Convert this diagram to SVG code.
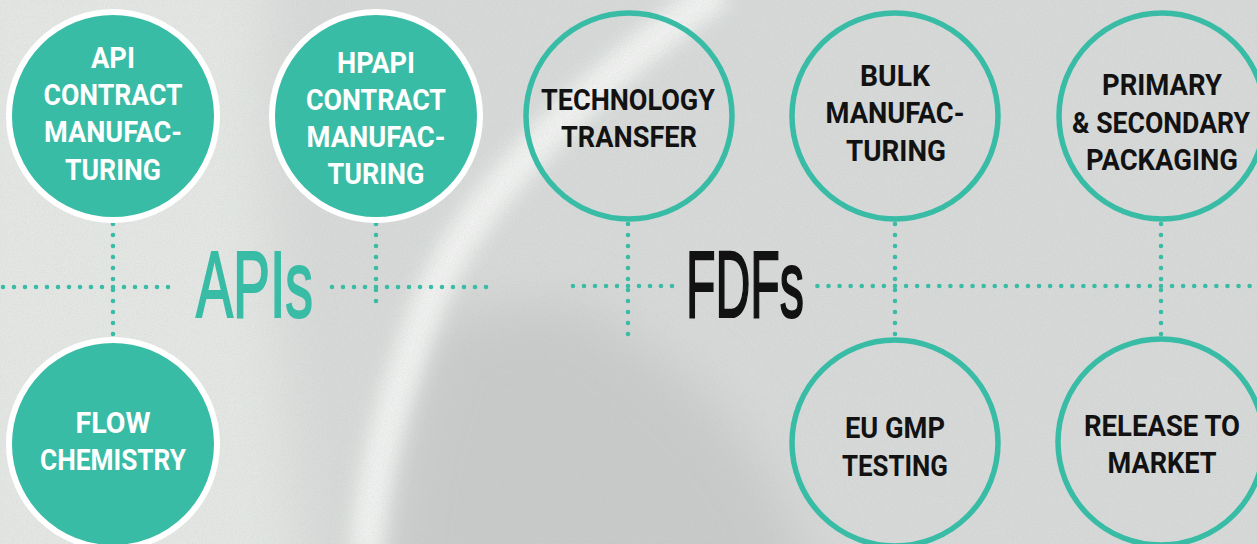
<svg xmlns="http://www.w3.org/2000/svg" width="1257" height="544" viewBox="0 0 1257 544">
  <defs>
    <style>
      .lbl { font-family: Roboto, "Liberation Sans", Arial, sans-serif; font-weight: 700; font-size: 30px; text-anchor: middle; }
      .w { fill: #ffffff; }
      .k { fill: #121212; }
      .solid { fill: #39bca6; stroke: #ffffff; stroke-width: 6; }
      .ring { fill: none; stroke: #39bca6; stroke-width: 5.5; }
      .dots { fill: none; stroke: #39bca6; stroke-width: 4.6; stroke-linecap: round; stroke-dasharray: 0 11; }
      .big { font-family: "Liberation Sans", Arial, sans-serif; font-size: 94px; stroke-width: 2.2; }
    </style>
    <filter id="soft" x="-20%" y="-20%" width="140%" height="140%">
      <feGaussianBlur stdDeviation="26"/>
    </filter>
    <filter id="crease" x="-20%" y="-20%" width="140%" height="140%">
      <feGaussianBlur stdDeviation="9"/>
    </filter>
    <filter id="grain" x="0" y="0" width="100%" height="100%">
      <feTurbulence type="fractalNoise" baseFrequency="0.9" numOctaves="2" seed="4" result="n"/>
      <feColorMatrix in="n" type="matrix" values="0 0 0 0 0.45  0 0 0 0 0.47  0 0 0 0 0.46  0 0 0 0.9 -0.38"/>
    </filter>
  </defs>

  <!-- paper background -->
  <g id="background">
    <rect width="1257" height="544" fill="#d6d9d7"/>
    <path d="M-40 -40 H270 C250 150 280 330 300 600 H-40 Z" fill="#e3e6e3" filter="url(#soft)"/>
    <path d="M440 320 C410 400 392 470 386 600 H820 C780 460 700 360 560 300 Z" fill="#c8cac9" filter="url(#soft)"/>
    <path d="M720 -10 C580 90 470 200 430 300 C395 390 372 470 366 554" fill="none" stroke="#f4f6f4" stroke-width="34" opacity="0.85" filter="url(#crease)"/>
    <rect width="1257" height="544" filter="url(#grain)" opacity="0.5"/>
  </g>

  <!-- dotted connectors -->
  <g id="connectors" class="dots">
    <path d="M3 287 H170"/>
    <path d="M332 287 H490"/>
    <path d="M113 224 V337"/>
    <path d="M376 224 V308"/>
    <path d="M573 286 H673"/>
    <path d="M817.4 286 H1262" style="stroke-dasharray: 0 11.083"/>
    <path d="M628 224 V339"/>
    <path d="M895 224 V336"/>
    <path d="M1161 224 V335"/>
  </g>

  <!-- section titles -->
  <g id="title-apis">
    <text class="big" x="196" y="317" textLength="117" lengthAdjust="spacingAndGlyphs" fill="#39bca6" stroke="#39bca6">APIs</text>
  </g>
  <g id="title-fdfs">
    <text class="big" x="686" y="317" textLength="118" lengthAdjust="spacingAndGlyphs" fill="#121212" stroke="#121212">FDFs</text>
  </g>

  <!-- API services -->
  <g id="api-contract">
    <circle class="solid" cx="113" cy="116" r="104"/>
    <text class="lbl w" x="113" y="68" textLength="44" lengthAdjust="spacingAndGlyphs">API</text>
    <text class="lbl w" x="113" y="105" textLength="139" lengthAdjust="spacingAndGlyphs">CONTRACT</text>
    <text class="lbl w" x="113" y="142" textLength="138" lengthAdjust="spacingAndGlyphs">MANUFAC-</text>
    <text class="lbl w" x="113" y="180" textLength="96" lengthAdjust="spacingAndGlyphs">TURING</text>
  </g>
  <g id="hpapi-contract">
    <circle class="solid" cx="376" cy="116" r="104"/>
    <text class="lbl w" x="376" y="73" textLength="78" lengthAdjust="spacingAndGlyphs">HPAPI</text>
    <text class="lbl w" x="376" y="110" textLength="140" lengthAdjust="spacingAndGlyphs">CONTRACT</text>
    <text class="lbl w" x="376" y="147" textLength="139" lengthAdjust="spacingAndGlyphs">MANUFAC-</text>
    <text class="lbl w" x="376" y="184" textLength="97" lengthAdjust="spacingAndGlyphs">TURING</text>
  </g>
  <g id="flow-chemistry">
    <circle class="solid" cx="113" cy="444" r="104"/>
    <text class="lbl w" x="113" y="433" textLength="75" lengthAdjust="spacingAndGlyphs">FLOW</text>
    <text class="lbl w" x="113" y="470" textLength="146" lengthAdjust="spacingAndGlyphs">CHEMISTRY</text>
  </g>

  <!-- FDF services -->
  <g id="technology-transfer">
    <circle class="ring" cx="629" cy="116" r="103"/>
    <text class="lbl k" x="628" y="110" textLength="174" lengthAdjust="spacingAndGlyphs">TECHNOLOGY</text>
    <text class="lbl k" x="629" y="147" textLength="136" lengthAdjust="spacingAndGlyphs">TRANSFER</text>
  </g>
  <g id="bulk-manufacturing">
    <circle class="ring" cx="895" cy="116" r="103"/>
    <text class="lbl k" x="895" y="86" textLength="70" lengthAdjust="spacingAndGlyphs">BULK</text>
    <text class="lbl k" x="895" y="123" textLength="139" lengthAdjust="spacingAndGlyphs">MANUFAC-</text>
    <text class="lbl k" x="896" y="161" textLength="100" lengthAdjust="spacingAndGlyphs">TURING</text>
  </g>
  <g id="packaging">
    <circle class="ring" cx="1162" cy="116" r="103"/>
    <text class="lbl k" x="1162" y="95" textLength="120" lengthAdjust="spacingAndGlyphs">PRIMARY</text>
    <text class="lbl k" x="1161" y="133" textLength="178" lengthAdjust="spacingAndGlyphs">&amp; SECONDARY</text>
    <text class="lbl k" x="1162" y="170" textLength="152" lengthAdjust="spacingAndGlyphs">PACKAGING</text>
  </g>
  <g id="eu-gmp-testing">
    <circle class="ring" cx="895" cy="443" r="103"/>
    <text class="lbl k" x="895" y="438" textLength="100" lengthAdjust="spacingAndGlyphs">EU GMP</text>
    <text class="lbl k" x="895" y="476" textLength="106" lengthAdjust="spacingAndGlyphs">TESTING</text>
  </g>
  <g id="release-to-market">
    <circle class="ring" cx="1161" cy="442" r="103"/>
    <text class="lbl k" x="1162" y="436" textLength="156" lengthAdjust="spacingAndGlyphs">RELEASE TO</text>
    <text class="lbl k" x="1162" y="473" textLength="109" lengthAdjust="spacingAndGlyphs">MARKET</text>
  </g>
</svg>
